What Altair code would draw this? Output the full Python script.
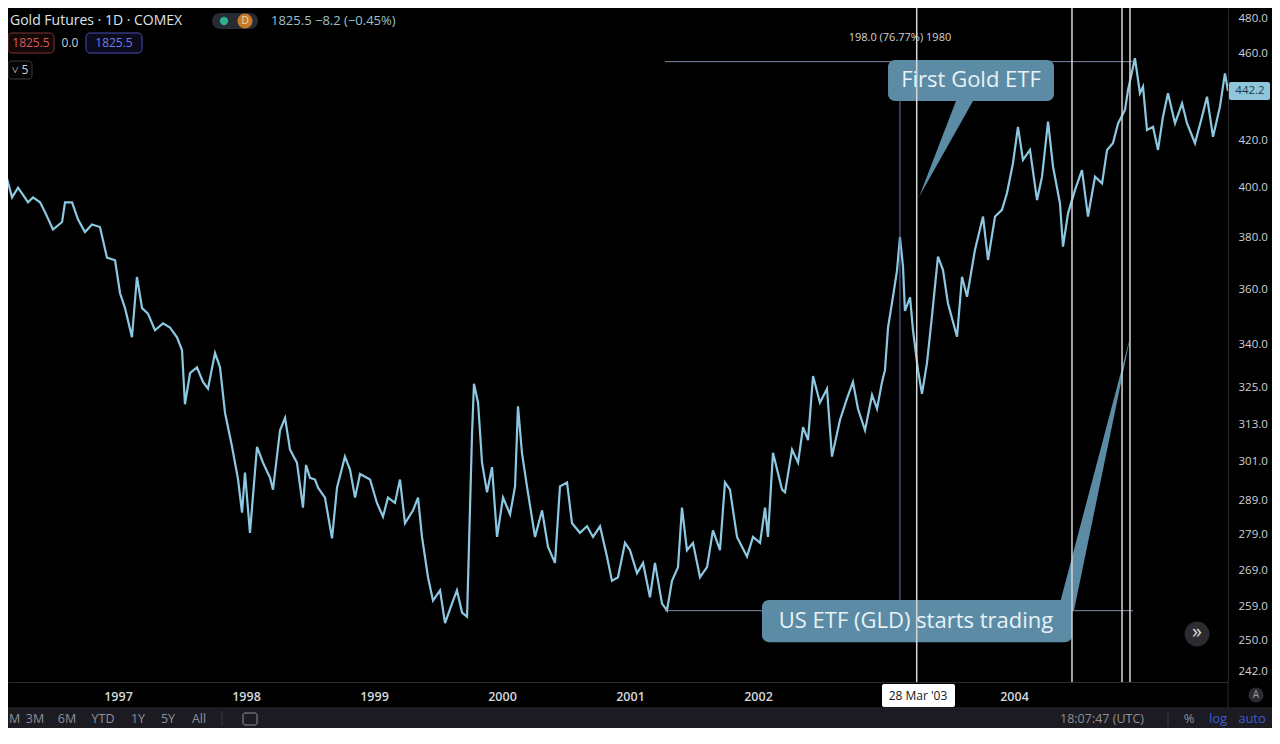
import altair as alt
import pandas as pd

# ---------------- data ----------------
years = [
    # 1996 - mid 1998
    1996.078, 1996.117, 1996.172, 1996.219, 1996.258, 1996.297, 1996.336, 1996.391, 1996.430, 1996.492,
    1996.563, 1996.586, 1996.641, 1996.688, 1996.742, 1996.797, 1996.859, 1996.914, 1996.977, 1997.016,
    1997.055, 1997.109, 1997.148, 1997.188, 1997.234, 1997.289, 1997.352, 1997.406, 1997.461, 1997.500,
    1997.523, 1997.563, 1997.617, 1997.664, 1997.703, 1997.758, 1997.797, 1997.836, 1997.891, 1997.938,
    1997.969, 1997.992, 1998.031, 1998.086, 1998.133, 1998.188, 1998.211, 1998.266, 1998.305, 1998.344,
    1998.398, 1998.445, 1998.469, 1998.500, 1998.539, 1998.563,
    # mid 1998 - 2000
    1998.617, 1998.672, 1998.711, 1998.773, 1998.813, 1998.852, 1998.891, 1998.969, 1999.023, 1999.070,
    1999.109, 1999.164, 1999.203, 1999.242, 1999.305, 1999.344, 1999.375, 1999.422, 1999.461, 1999.516,
    1999.555, 1999.609, 1999.648, 1999.688, 1999.727, 1999.766, 1999.781, 1999.813, 1999.844, 1999.883,
    1999.922, 1999.961, 2000.008, 2000.063, 2000.102, 2000.125, 2000.156, 2000.195, 2000.258, 2000.313,
    2000.359, 2000.414, 2000.453, 2000.508, 2000.547, 2000.609, 2000.664, 2000.711, 2000.766, 2000.820,
    2000.859, 2000.906,
    # 2001 - 2002
    2000.961, 2001.000, 2001.055, 2001.102, 2001.156, 2001.195, 2001.250, 2001.289, 2001.328, 2001.375,
    2001.406, 2001.445, 2001.492, 2001.547, 2001.602, 2001.648, 2001.703, 2001.742, 2001.781, 2001.836,
    2001.914, 2001.961, 2002.016, 2002.055, 2002.078, 2002.117, 2002.188, 2002.211, 2002.266, 2002.313,
    2002.352, 2002.391, 2002.430, 2002.484, 2002.539, 2002.578, 2002.641, 2002.695, 2002.742, 2002.781,
    2002.836, 2002.891, 2002.930, 2002.969, 2002.992,
    # 2003 - 2005
    2003.016, 2003.047, 2003.086, 2003.109, 2003.133, 2003.148, 2003.188, 2003.211, 2003.250, 2003.281,
    2003.320, 2003.359, 2003.406, 2003.445, 2003.484, 2003.555, 2003.594, 2003.633, 2003.695, 2003.758,
    2003.797, 2003.852, 2003.906, 2003.945, 2003.992, 2004.031, 2004.070, 2004.125, 2004.180, 2004.219,
    2004.266, 2004.305, 2004.359, 2004.383, 2004.422, 2004.477, 2004.531, 2004.578, 2004.633, 2004.688,
    2004.727, 2004.773, 2004.813, 2004.867, 2004.891, 2004.945, 2004.984, 2005.008, 2005.039, 2005.086,
    2005.125, 2005.164, 2005.203, 2005.258, 2005.313, 2005.352, 2005.414, 2005.469, 2005.508, 2005.555,
    2005.609, 2005.648, 2005.672,
]
prices = [
    419, 407, 396, 400, 397, 394, 396, 394, 390, 383,
    386, 394, 394, 387, 382, 385, 384, 372, 371, 358.5,
    353, 342.5, 364.6, 353, 351, 345, 347.5, 346, 342.5, 338,
    319.5, 330, 332, 327, 324.7, 337, 332, 316.7, 305.7, 295.5,
    285.5, 297.6, 279.6, 305.7, 300.7, 296, 292.4, 311, 315, 304.8,
    300.7, 287, 300, 296, 295.5, 293,
    290, 278, 293, 302.6, 298.5, 290, 297.2, 295.5, 288.4, 284.3,
    290, 288.4, 295.5, 282.4, 286.2, 290, 278.4, 267, 260.6, 263.4,
    254.6, 259.8, 263.4, 257.4, 256.3, 310, 326.4, 320, 300.7, 291.6,
    299.3, 278.4, 290, 285, 293.4, 318.8, 303.8, 293.4, 278.4, 286.2,
    275.6, 271, 293.4, 294.6, 282.4, 279.6, 281.5, 278.4, 281.5, 272.8,
    266, 267,
    276.7, 274.6, 268.1, 271, 261.5, 271, 259.8, 258, 266, 269.8,
    287, 274.6, 276.7, 267, 269.8, 280.3, 274.6, 294.6, 292.4, 278.4,
    272.8, 278.4, 276.7, 287, 278.4, 303.8, 292.4, 291.6, 304.8, 300.7,
    312, 307.8, 329, 320, 324.7, 302.6, 314.4, 321.4, 327, 318,
    311, 322.6, 318, 327, 331,
    346, 355, 367, 380, 368.5, 352, 357, 345, 331, 323,
    333.4, 350, 372.4, 367.3, 354.8, 342.7, 364.7, 357.2, 375, 388.2,
    371.1, 388.2, 390.9, 397.7, 410.3, 426.1, 411.7, 416, 394.9, 404.6,
    428.4, 408.8, 393.6, 376.3, 389.5, 399.1, 407.4, 388.2, 404.6, 401.8,
    416, 418.9, 427.6, 433.6, 442.7, 457.5, 441.2, 444.2, 424.7, 426.1,
    416, 430.6, 441.2, 427.6, 436.6, 427.6, 418.9, 430.6, 439.6, 421.7,
    435.1, 450.4, 442.2,
]
assert len(years) == len(prices)

# 440.0 sits under the last-price badge and 2003 under the date badge in the reference
price_ticks = [242, 250, 259, 269, 279, 289, 301, 313, 325, 340, 360, 380, 400, 420, 460, 480]
year_ticks = [1997, 1998, 1999, 2000, 2001, 2002, 2004]

# price-range measurement (TradingView tool): from 2001 low to 2004 high
measure_start, measure_end = 2001.273, 2004.930
measure_low, measure_high = 257.9, 455.9
measure_x = 2003.109
measure_label = "198.0 (76.77%) 1980"
measure_label_price = 467.2

# vertical marker lines (dates)
marker_years = [2003.24, 2004.453, 2004.844, 2004.906]

# callouts: box extents (years / prices) and pointer triangles
callout_text = ["First Gold ETF", "US ETF (GLD) starts trading"]
callout_x1 = [2003.016, 2002.031]
callout_x2 = [2004.3125, 2004.453]
callout_p_top = [456.7, 260.8]
callout_p_bot = [437.7, 249.6]
callout_text_x = [2003.664, 2003.234]
callout_text_p = [447.3, 255.1]
pointer_id = [1, 1, 2, 2]
pointer_p = [440.0, 396.2, 258.0, 343.7]
pointer_xa = [2003.5625, 2003.258, 2004.344, 2004.914]
pointer_xb = [2003.703, 2003.258, 2004.469, 2004.914]

last_price = "442.2"

# ---------------- chart ----------------
FONT = "Open Sans"
LINE = "#8cc8e2"
CALLOUT = "#5c8ca5"

X_DOMAIN = [1996.1406, 2005.6719]
Y_DOMAIN = [239.5, 482.0]
xs = alt.Scale(domain=X_DOMAIN, nice=False, zero=False, padding=0)
ys = alt.Scale(type="log", domain=Y_DOMAIN, nice=False, padding=0)

AX = alt.Axis(values=year_ticks, format="d", ticks=False, grid=False,
              domainColor="#2b2b2b", labelColor="#d6d8de", labelFont=FONT,
              labelFontSize=12.5, labelFontWeight=600, labelPadding=8,
              labelFlush=False, labelOverlap=False, title=None)
AY = alt.Axis(orient="right", values=price_ticks, format=".1f", ticks=False,
              grid=False, domainColor="#2b2b2b", labelColor="#cfd1d6",
              labelFont=FONT, labelFontSize=11.5, labelAlign="left",
              labelBaseline={"condition": {"test": "datum.value >= 479", "value": "top"},
                             "value": "middle"},
              labelPadding=10, labelFlush=False, labelOverlap=False, title=None)


def X(field):
    return alt.X(field, scale=xs, axis=AX, title=None)


def Y(field):
    return alt.Y(field, scale=ys, axis=AY, title=None)


df = pd.DataFrame({"year": years, "price": prices})
price_line = alt.Chart(df).mark_line(color=LINE, strokeWidth=2.2, clip=True).encode(
    x=X("year:Q"), y=Y("price:Q"))

mh = pd.DataFrame({"x1": [measure_start] * 2, "x2": [measure_end] * 2,
                   "p": [measure_high, measure_low]})
measure_h = alt.Chart(mh).mark_rule(color="#7f8aa8", strokeWidth=1).encode(
    x=X("x1:Q"), x2="x2:Q", y=Y("p:Q"))
mv = pd.DataFrame({"x": [measure_x], "p1": [measure_low], "p2": [measure_high]})
measure_v = alt.Chart(mv).mark_rule(color="#6673b0", strokeWidth=1).encode(
    x=X("x:Q"), y=Y("p1:Q"), y2="p2:Q")
ml = pd.DataFrame({"x": [measure_x], "p": [measure_label_price], "t": [measure_label]})
measure_t = alt.Chart(ml).mark_text(color="#d4d4d4", fontSize=11, font=FONT,
                                    align="center", baseline="middle").encode(
    x=X("x:Q"), y=Y("p:Q"), text="t:N")

cb = pd.DataFrame({"x1": callout_x1, "x2": callout_x2, "p1": callout_p_top,
                   "p2": callout_p_bot, "tx": callout_text_x, "tp": callout_text_p,
                   "t": callout_text})
boxes = alt.Chart(cb).mark_rect(fill=CALLOUT, cornerRadius=7).encode(
    x=X("x1:Q"), x2="x2:Q", y=Y("p1:Q"), y2="p2:Q")
box_text = alt.Chart(cb).mark_text(color="#e8f2f6", fontSize=22, font=FONT,
                                   align="center", baseline="middle").encode(
    x=X("tx:Q"), y=Y("tp:Q"), text="t:N")
pt = pd.DataFrame({"id": pointer_id, "p": pointer_p, "xa": pointer_xa, "xb": pointer_xb})
pointers = alt.Chart(pt).mark_area(orient="horizontal", color=CALLOUT, opacity=1).encode(
    y=Y("p:Q"), x=alt.X("xa:Q", scale=xs, axis=AX, title=None, stack=None), x2="xb:Q",
    detail="id:N")

mk = pd.DataFrame({"x": marker_years})
markers = alt.Chart(mk).mark_rule(color="#d6d6d6", strokeWidth=1.5).encode(x=X("x:Q"))

# ---------------- terminal chrome (pixel positions) ----------------
ONE = pd.DataFrame({"k": [0]})


def txt(s, x, y, size=12, color="#cccccc", align="center", weight="normal"):
    return alt.Chart(ONE).mark_text(text=s, fontSize=size, color=color, align=align,
                                    baseline="middle", fontWeight=weight, font=FONT).encode(
        x=alt.value(x), y=alt.value(y))


def box(x1, x2, y1, y2, fill, stroke=None, r=0, sw=1):
    kw = dict(fill=fill, cornerRadius=r)
    if stroke:
        kw.update(stroke=stroke, strokeWidth=sw)
    return alt.Chart(ONE).mark_rect(**kw).encode(
        x=alt.value(x1), x2=alt.value(x2), y=alt.value(y1), y2=alt.value(y2))


def dot(x, y, size, color):
    return alt.Chart(ONE).mark_point(shape="circle", filled=True, size=size, color=color,
                                     opacity=1).encode(x=alt.value(x), y=alt.value(y))


def vline(x, y1, y2, color):
    return alt.Chart(ONE).mark_rule(color=color, strokeWidth=1).encode(
        x=alt.value(x), y=alt.value(y1), y2=alt.value(y2))


def hline(x1, x2, y, color):
    return alt.Chart(ONE).mark_rule(color=color, strokeWidth=1).encode(
        x=alt.value(x1), x2=alt.value(x2), y=alt.value(y))


GRAY = "#8e9099"
BLUE = "#3f5bd6"
TB = 711  # toolbar text centre
H1, H2, H3 = 13, 35, 62  # header rows
chrome = [
    # header
    txt("Gold Futures · 1D · COMEX", 2, H1, 14, "#dfe2ea", "left"),
    box(204, 250, H1 - 8, H1 + 8, "#262a33", r=8),
    dot(216, H1, 70, "#2fae8c"),
    dot(237, H1, 230, "#c47a28"),
    txt("D", 237, H1, 10.5, "#f6d6a8"),
    txt("1825.5  −8.2 (−0.45%)", 263, H1, 13, "#9dc0c9", "left"),
    box(0, 46, H2 - 10, H2 + 10, "#120808", "#7d3434", r=4),
    txt("1825.5", 23, H2, 12, "#d65c5c"),
    txt("0.0", 62, H2, 12, "#d0d0d0"),
    box(78, 134, H2 - 10, H2 + 10, "#0b0b1c", "#4b4fb8", r=4),
    txt("1825.5", 106, H2, 12, "#6f7de6"),
    box(0, 24, H3 - 9, H3 + 9, "#050505", "#3a3a3a", r=3),
    txt("˅ 5", 12, H3, 12, "#d0d0d0"),
    # price badge
    box(1221, 1262, 74, 92, "#8fc6dc", r=2),
    txt(last_price, 1242, 83, 11.5, "#1c3a4c"),
    # scroll button and auto-scale button
    dot(1189, 626, 615, "#2b2b31"),
    txt("»", 1189, 624, 20, "#dcdcdc"),
    vline(1220, 674, 700, "#2b2b2b"),
    dot(1248, 687, 230, "#2a2a30"),
    txt("A", 1248, 687, 10, "#9a9a9a"),
    # date badge on time axis
    box(874, 947, 676, 699, "#ffffff", r=2),
    txt("28 Mar '03", 910, 688, 12, "#131722"),
    # bottom toolbar
    box(0, 1264, 700, 720, "#1b1b21"),
    hline(0, 1264, 700, "#2b2b2b"),
    txt("M", 1, TB, 12.5, GRAY, "left"),
    txt("3M", 27, TB, 12.5, GRAY),
    txt("6M", 59, TB, 12.5, GRAY),
    txt("YTD", 95, TB, 12.5, GRAY),
    txt("1Y", 130, TB, 12.5, GRAY),
    txt("5Y", 160, TB, 12.5, GRAY),
    txt("All", 191, TB, 12.5, GRAY),
    vline(214, 703, 718, "#3a3a40"),
    box(235, 249, 705, 717, "#1b1b21", GRAY, r=2),
    txt("18:07:47 (UTC)", 1094, TB, 12.5, GRAY),
    vline(1160, 703, 718, "#3a3a40"),
    txt("%", 1181, TB, 13, GRAY),
    txt("log", 1210, TB, 13, BLUE),
    txt("auto", 1244, TB, 13, BLUE),
]

layers = [price_line, measure_h, measure_v, measure_t, pointers, boxes, box_text, markers] + chrome

chart = alt.layer(*layers).properties(
    width=1220, height=674,
    padding={"left": 0, "top": 0, "right": 44, "bottom": 46},
    autosize=alt.AutoSizeParams(type="none"),
    background="#000000",
).configure_view(stroke=None)

chart.save("out.html", embed_options={"renderer": "svg", "actions": False})
